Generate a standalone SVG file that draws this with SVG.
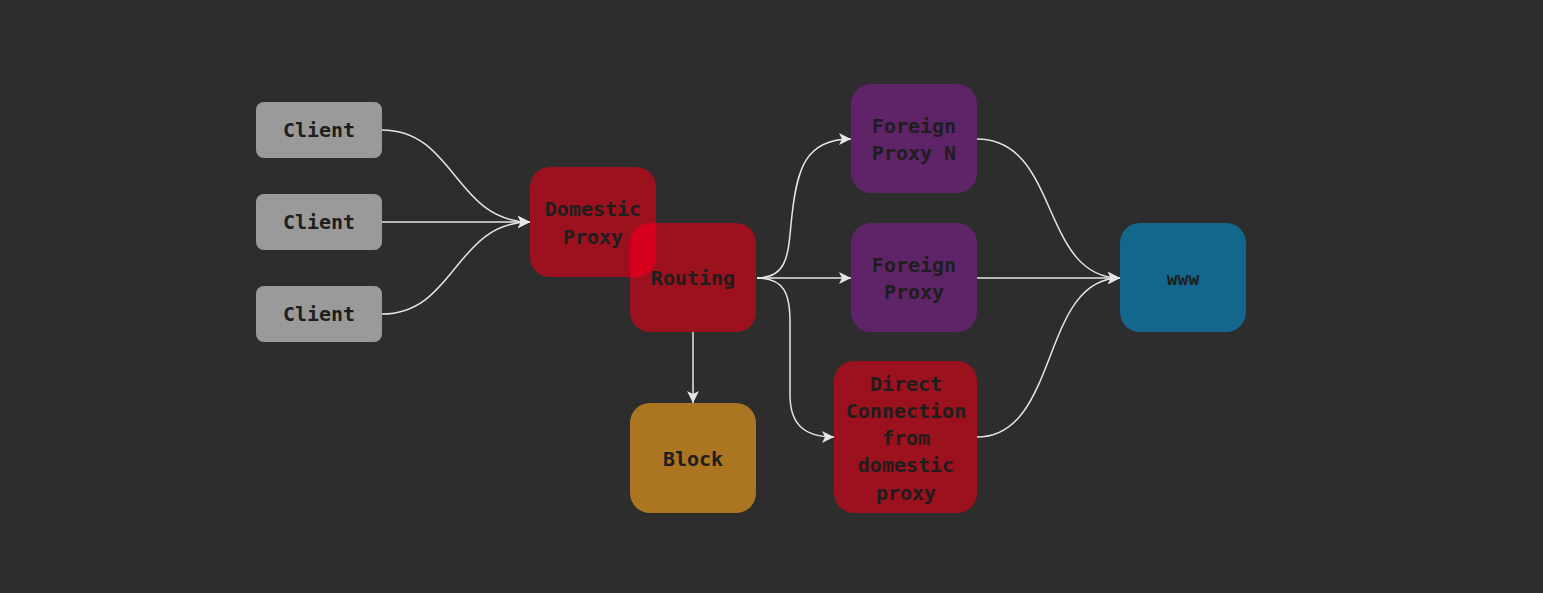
<svg xmlns="http://www.w3.org/2000/svg" width="1543" height="593" viewBox="0 0 1543 593">
<style>
.bg{fill:#2d2d2d}
.client{fill:#9a9a9a}
.red{fill:#9b111d}
.purple{fill:#5f2468}
.block{fill:#ab7522}
.www{fill:#13678d}
.t{font-family:"DejaVu Sans Mono","Liberation Mono",monospace;font-weight:bold;font-size:20px;fill:#1e1e1e;text-anchor:middle}
.edge{fill:none;stroke:#e6e6e6;stroke-width:1.5}
</style>
<defs>
<marker id="arr" viewBox="0 0 12 12" refX="12" refY="6" markerWidth="12" markerHeight="12" markerUnits="userSpaceOnUse" orient="auto">
<path d="M0,0 L12,6 L0,12 L3,6 z" fill="#e6e6e6"/>
</marker>
<clipPath id="domClip"><rect x="530" y="167" width="126" height="110" rx="20"/></clipPath>
</defs>
<rect class="bg" x="0" y="0" width="1543" height="593"/>
<g id="connectors">
<path class="edge" d="M382,130 C455,130 455,222 530,222" marker-end="url(#arr)"/>
<path class="edge" d="M382,222 L530,222" marker-end="url(#arr)"/>
<path class="edge" d="M382,314 C455,314 455,222 530,222" marker-end="url(#arr)"/>
<path class="edge" d="M693,332 L693,403" marker-end="url(#arr)"/>
<path class="edge" d="M757,278 C790,278 788,250 792,215 C797,170 805,139 851,139" marker-end="url(#arr)"/>
<path class="edge" d="M757,278 L851,278" marker-end="url(#arr)"/>
<path class="edge" d="M757,278 C785,278 790,295 790,322 L790,395 C790,425 805,437 834,437" marker-end="url(#arr)"/>
<path class="edge" d="M977,139 C1060,139 1040,278 1120,278" marker-end="url(#arr)"/>
<path class="edge" d="M977,278 L1120,278" marker-end="url(#arr)"/>
<path class="edge" d="M977,437 C1060,437 1040,278 1120,278" marker-end="url(#arr)"/>
</g>
<g id="client1"><rect class="client" x="256" y="102" width="126" height="56" rx="8"/><text class="t" x="319" y="137">Client</text></g>
<g id="client2"><rect class="client" x="256" y="194" width="126" height="56" rx="8"/><text class="t" x="319" y="229">Client</text></g>
<g id="client3"><rect class="client" x="256" y="286" width="126" height="56" rx="8"/><text class="t" x="319" y="321">Client</text></g>
<g id="domestic"><rect class="red" x="530" y="167" width="126" height="110" rx="20"/><text class="t" x="593" y="216">Domestic</text><text class="t" x="593" y="244">Proxy</text></g>
<g id="routing"><rect class="red" x="630" y="223" width="126" height="109" rx="20"/><rect x="630" y="223" width="126" height="109" rx="20" fill="#d6001c" clip-path="url(#domClip)"/><text class="t" x="693" y="285">Routing</text></g>
<g id="block"><rect class="block" x="630" y="403" width="126" height="110" rx="20"/><text class="t" x="693" y="466">Block</text></g>
<g id="foreignN"><rect class="purple" x="851" y="84" width="126" height="109" rx="20"/><text class="t" x="914" y="133">Foreign</text><text class="t" x="914" y="160">Proxy N</text></g>
<g id="foreign"><rect class="purple" x="851" y="223" width="126" height="109" rx="20"/><text class="t" x="914" y="272">Foreign</text><text class="t" x="914" y="299">Proxy</text></g>
<g id="direct"><rect class="red" x="834" y="361" width="143" height="152" rx="20"/><text class="t" x="906" y="391">Direct</text><text class="t" x="906" y="418">Connection</text><text class="t" x="906" y="445">from</text><text class="t" x="906" y="472">domestic</text><text class="t" x="906" y="500">proxy</text></g>
<g id="www"><rect class="www" x="1120" y="223" width="126" height="109" rx="20"/><text class="t" x="1183" y="285" style="font-size:18px">www</text></g>
</svg>
